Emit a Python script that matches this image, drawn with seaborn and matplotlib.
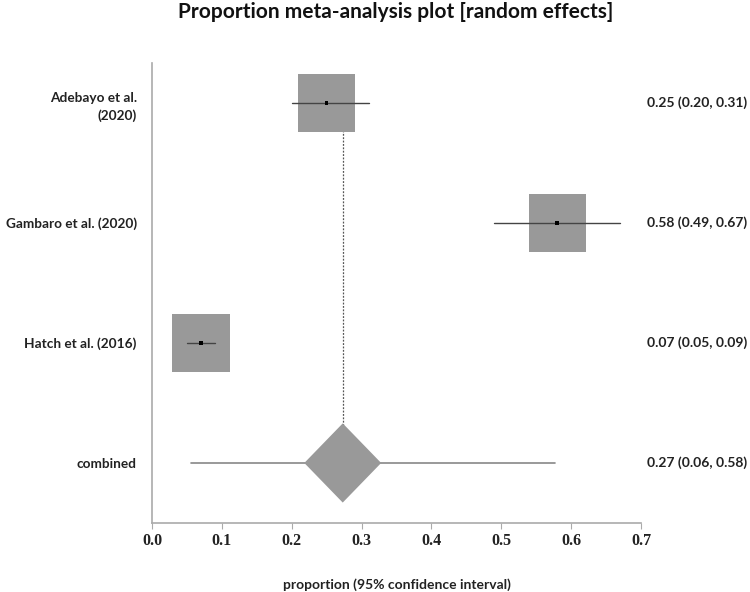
import matplotlib
matplotlib.use("Agg")
import matplotlib.pyplot as plt
import seaborn as sns
import pandas as pd
import numpy as np
from matplotlib.patches import Rectangle, Polygon

studies = ["Adebayo et al.\n(2020)", "Gambaro et al. (2020)", "Hatch et al. (2016)"]
estimates = [0.25, 0.58, 0.07]
ci_low = [0.20, 0.49, 0.05]
ci_high = [0.31, 0.67, 0.09]
combined_label = "combined"
combined_est = 0.273
combined_low = 0.056
combined_high = 0.577
right_texts = ["0.25 (0.20, 0.31)", "0.58 (0.49, 0.67)", "0.07 (0.05, 0.09)", "0.27 (0.06, 0.58)"]
xticks = [0.0, 0.1, 0.2, 0.3, 0.4, 0.5, 0.6, 0.7]

sns.set_theme(style="white")
plt.rcParams['font.family'] = ['Lato', 'DejaVu Sans']

fig = plt.figure(figsize=(7.5, 5.92), dpi=100)
ax = fig.add_axes([0.2027, 0.1166, 0.652, 0.777])

df = pd.DataFrame({"study": studies, "est": estimates, "lo": ci_low, "hi": ci_high,
                   "row": np.arange(len(studies))})
comb_row = len(studies)

# dotted reference line at combined estimate
ax.plot([combined_est, combined_est], [0, comb_row], color="#555555", lw=0.9,
        ls=(0, (1.5, 1.2)), zorder=1)

sq_w, sq_h = 0.082, 0.485
for _, r in df.iterrows():
    ax.add_patch(Rectangle((r.est - sq_w / 2, r.row - sq_h / 2), sq_w, sq_h,
                           facecolor="#999999", edgecolor="none", zorder=2))
    ax.plot([r.lo, r.hi], [r.row, r.row], color="#444444", lw=1.0, zorder=3)

sns.scatterplot(data=df, x="est", y="row", color="black", s=6, marker="s",
                edgecolor="none", ax=ax, zorder=4, legend=False)

# combined
ax.plot([combined_low, combined_high], [comb_row, comb_row], color="#888888", lw=1.2, zorder=2)
dw, dh = 0.055, 0.33
ax.add_patch(Polygon([(combined_est - dw, comb_row), (combined_est, comb_row - dh),
                      (combined_est + dw, comb_row), (combined_est, comb_row + dh)],
                     closed=True, facecolor="#999999", edgecolor="none", zorder=3))

ax.set_xlim(0, 0.7)
ax.set_ylim(comb_row + 0.5, -0.333)
ax.set_xticks(xticks)
ax.set_xticklabels([f"{t:.1f}" for t in xticks], family="Liberation Serif",
                   fontweight="bold", fontsize=11.5, color="#222222")
ax.set_yticks(list(df.row) + [comb_row])
ax.set_yticklabels(studies + [combined_label], fontsize=9.8, fontweight="bold",
                   color="#222222", linespacing=1.5)
ax.tick_params(axis="y", length=0, pad=11)
ax.tick_params(axis="x", length=4, width=0.8, color="#aaaaaa", direction="out", pad=3, bottom=True)
for s in ["top", "right"]:
    ax.spines[s].set_visible(False)
for s in ["left", "bottom"]:
    ax.spines[s].set_color("#aaaaaa")
    ax.spines[s].set_linewidth(1.2)
ax.set_xlabel("proportion (95% confidence interval)", fontsize=10, fontweight="bold",
              color="#222222", labelpad=21)
ax.set_ylabel("")

for i, t in enumerate(right_texts):
    ax.text(1.012, i, t, transform=ax.get_yaxis_transform(), ha="left", va="center",
            fontsize=10, fontweight="bold", color="#222222")

fig.text(0.528, 0.979, "Proportion meta-analysis plot [random effects]", ha="center", va="center",
         fontsize=15, fontweight="bold", color="#111111")

fig.savefig("out.png", dpi=100, facecolor="white")
